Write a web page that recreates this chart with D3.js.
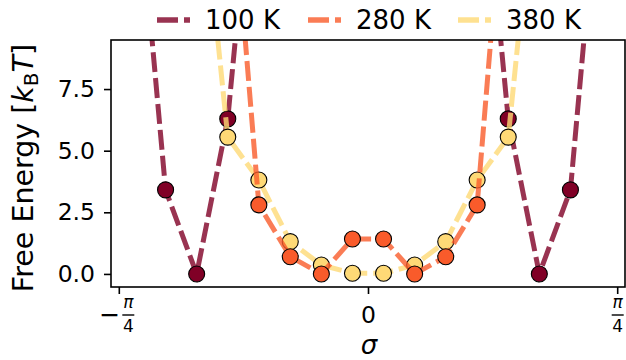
<!DOCTYPE html>
<html><head><meta charset="utf-8">
<script src="https://cdn.jsdelivr.net/npm/d3@7"></script>
<style>body{margin:0;background:#fff} svg{display:block} text{font-family:"DejaVu Sans",sans-serif}</style>
</head><body><svg id="c" width="626" height="360"></svg>
<script>
// sigma positions (rad)
const sigma = [-0.736, -0.638, -0.540, -0.442, -0.344, -0.245, -0.147, -0.049, 0.049, 0.147, 0.245, 0.344, 0.442, 0.540, 0.638, 0.736];
// free energy (kBT); null = not sampled
const f100 = [17.4, 3.41, 0.0, 6.29, 19.5, null, null, null, null, null, null, 19.5, 6.29, 0.0, 3.41, 17.4];
const f280 = [null, null, null, 18.1, 2.80, 0.70, 0.00, 1.42, 1.42, 0.00, 0.70, 2.80, 18.1, null, null, null];
const f380 = [null, null, 17.9, 5.55, 3.81, 1.31, 0.36, 0.03, 0.03, 0.36, 1.31, 3.81, 5.55, 17.9, null, null];
const seriesNames = ["100 K", "280 K", "380 K"];
const markerColors = ["#800026", "#f95b2b", "#fed976"];
const xTickValues = [-0.7854, 0, 0.7854];
const xTickLabels = ["−π/4", "0", "π/4"];
const yTickValues = [0, 2.5, 5, 7.5];

const series = [
  {name: seriesNames[0], values: f100, color: markerColors[0]},
  {name: seriesNames[1], values: f280, color: markerColors[1]},
  {name: seriesNames[2], values: f380, color: markerColors[2]}
];
const drawOrder = [0, 2, 1];

const svg = d3.select("#c");
const L = 111, R = 625, T = 40, B = 287;
const x = d3.scaleLinear().domain([-0.81, 0.81]).range([L, R]);
const y = d3.scaleLinear().domain([-0.53, 9.49]).range([B, T]);

svg.append("defs").append("clipPath").attr("id", "clip")
  .append("rect").attr("x", L).attr("y", T).attr("width", R - L).attr("height", B - T);

const plot = svg.append("g").attr("clip-path", "url(#clip)");
const line = d3.line().defined(d => d[1] !== null).x(d => x(d[0])).y(d => y(d[1]));

drawOrder.forEach(i => {
  const s = series[i];
  const pts = sigma.map((sx, j) => [sx, s.values[j]]);
  plot.append("path").attr("d", line(pts))
    .attr("fill", "none").attr("stroke", s.color).attr("stroke-opacity", 0.8)
    .attr("stroke-width", 5).attr("stroke-dasharray", "20 6");
  plot.selectAll(null).data(pts.filter(p => p[1] !== null && p[1] < 9.49)).enter()
    .append("circle").attr("cx", d => x(d[0])).attr("cy", d => y(d[1])).attr("r", 8)
    .attr("fill", s.color).attr("stroke", "#000").attr("stroke-width", 1.1);
});

// frame
svg.append("rect").attr("x", L).attr("y", T).attr("width", R - L).attr("height", B - T)
  .attr("fill", "none").attr("stroke", "#000").attr("stroke-width", 1.6);

// y axis
const yAxis = svg.append("g").attr("transform", `translate(${L},0)`)
  .call(d3.axisLeft(y).tickValues(yTickValues).tickFormat(d3.format(".1f")).tickSize(7).tickPadding(9));
yAxis.select(".domain").remove();
yAxis.selectAll("line").attr("stroke-width", 1.6);
yAxis.selectAll("text").attr("font-size", 23.5).attr("fill", "#000").attr("font-family", "DejaVu Sans");

// x axis
const xAxis = svg.append("g").attr("transform", `translate(0,${B})`)
  .call(d3.axisBottom(x).tickValues(xTickValues).tickFormat("").tickSize(7));
xAxis.select(".domain").remove();
xAxis.selectAll("line").attr("stroke-width", 1.6);
xAxis.selectAll(".tick").each(function(d, i) {
  const g = d3.select(this);
  const lab = xTickLabels[i];
  if (lab === "0") {
    g.append("text").attr("x", 0).attr("y", 36).attr("text-anchor", "middle")
      .attr("fill", "#000").attr("font-size", 23.5).text(lab);
  } else {
    const neg = lab.startsWith("−");
    const fx = neg ? 9 : 0;
    if (neg) g.append("text").attr("x", 1).attr("y", 36).attr("text-anchor", "end")
      .attr("fill", "#000").attr("font-size", 25).text("−");
    g.append("text").attr("x", fx).attr("y", 21).attr("text-anchor", "middle").attr("fill", "#000")
      .attr("font-size", 17).attr("font-style", "italic").text("π");
    g.append("line").attr("x1", fx - 6).attr("x2", fx + 6).attr("y1", 28).attr("y2", 28)
      .attr("stroke", "#000").attr("stroke-width", 1.4);
    g.append("text").attr("x", fx).attr("y", 45).attr("text-anchor", "middle").attr("fill", "#000")
      .attr("font-size", 17).text("4");
  }
});

// axis labels
svg.append("text").attr("x", 369).attr("y", 354).attr("text-anchor", "middle")
  .attr("font-size", 26).attr("font-style", "italic").text("σ");
const yl = svg.append("text").attr("transform", `translate(33,168) rotate(-90)`)
  .attr("text-anchor", "middle").attr("font-size", 28.5);
yl.append("tspan").text("Free Energy [");
yl.append("tspan").attr("font-style", "italic").text("k");
yl.append("tspan").attr("font-size", 20).attr("dy", 5).text("B");
yl.append("tspan").attr("font-style", "italic").attr("dy", -5).text("T");
yl.append("tspan").text("]");

// legend
const legX = [157, 308, 458];
const leg = svg.append("g");
seriesNames.forEach((n, i) => {
  const s = series[i];
  leg.append("line").attr("x1", legX[i]).attr("x2", legX[i] + 33).attr("y1", 20).attr("y2", 20)
    .attr("stroke", s.color).attr("stroke-opacity", 0.8).attr("stroke-width", 5.5)
    .attr("stroke-dasharray", "21 6");
  leg.append("text").attr("x", legX[i] + 48).attr("y", 29).attr("font-size", 26).text(n);
});
</script></body></html>
